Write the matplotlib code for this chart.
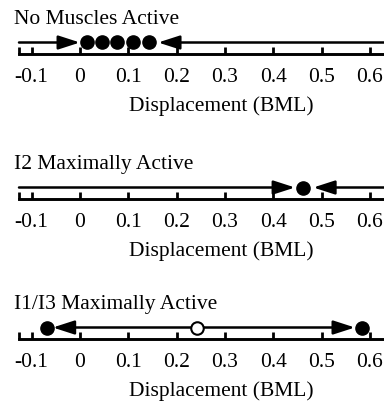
import matplotlib
matplotlib.use("Agg")
import matplotlib.pyplot as plt

plt.rcParams['font.family'] = ['Liberation Serif', 'DejaVu Serif']

titles = ["No Muscles Active", "I2 Maximally Active", "I1/I3 Maximally Active"]
tick_vals = [-0.1, 0, 0.1, 0.2, 0.3, 0.4, 0.5, 0.6]
tick_labels = ["-0.1", "0", "0.1", "0.2", "0.3", "0.4", "0.5", "0.6"]
xmin, xmax = -0.126, 0.71

# stable / unstable equilibria per panel
stable = [[0.015, 0.045, 0.076, 0.109, 0.143], [0.462], [-0.069, 0.583]]
unstable = [[], [], [0.243]]
# arrows: (start, tip)
arrows = [
    [(xmin, 0.0), (xmax, 0.162)],
    [(xmin, 0.445), (xmax, 0.483)],
    [(0.243, -0.056), (0.243, 0.569)],
]

W, H = 384, 403
fig = plt.figure(figsize=(W / 100, H / 100), dpi=100)

axis_y = [54, 199, 339]
title_y = [19, 165, 305]
ax_h = 30

for i in range(3):
    y0 = 1 - axis_y[i] / H
    # axis runs past the right edge of the picture (cropped)
    ax = fig.add_axes([19 / W, y0, (423 - 19) / W, ax_h / H])
    ax.set_xlim(xmin, xmax)
    ax.set_ylim(0, ax_h)
    for s in ["left", "right", "top"]:
        ax.spines[s].set_visible(False)
    ax.spines["bottom"].set_linewidth(2.1)
    ax.set_yticks([])
    ax.set_xticks([xmin] + tick_vals)
    ax.set_xticklabels([""] + tick_labels)
    ax.tick_params(axis="x", direction="in", length=5, width=2, pad=10, labelsize=15.5)
    ax.set_xlabel("Displacement (BML)", fontsize=15.5, labelpad=6.5)

    ya = 11.5
    for (x0, x1) in arrows[i]:
        ax.annotate("", xy=(x1, ya), xytext=(x0, ya),
                    arrowprops=dict(arrowstyle="-|>,head_length=1.3,head_width=0.42",
                                    lw=1.8, color="black", shrinkA=0, shrinkB=0))
    if stable[i]:
        ax.plot(stable[i], [ya] * len(stable[i]), "o", color="black", ms=9.5, zorder=5)
    if unstable[i]:
        ax.plot(unstable[i], [ya] * len(unstable[i]), "o", mfc="white", mec="black",
                mew=1.5, ms=9, zorder=5)

    fig.text(14 / W, 1 - title_y[i] / H, titles[i], fontsize=15.5, va="center", ha="left")

fig.savefig("out.png", dpi=100)
